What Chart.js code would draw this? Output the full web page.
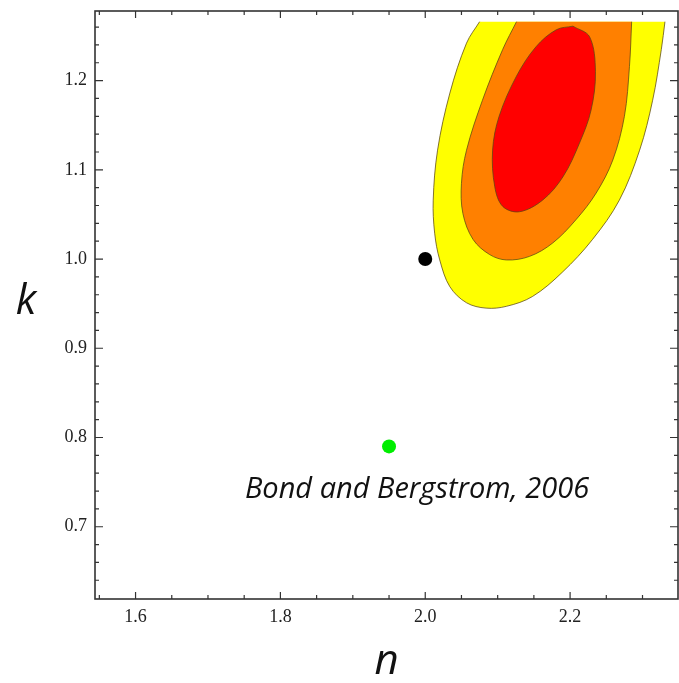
<!DOCTYPE html>
<html>
<head>
<meta charset="utf-8">
<title>n - k</title>
<script src="https://cdn.jsdelivr.net/npm/chart.js@4.4.0/dist/chart.umd.min.js"></script>
<style>
  html, body { margin: 0; padding: 0; background: #fff; }
</style>
</head>
<body>
<canvas id="chart" width="679" height="683"></canvas>
<script>
// confidence regions in the (n, k) plane, outer to inner; the outer two are cut off at k = 1.266
var yellowRegion = [
  [2.075, 1.266], [2.057, 1.242], [2.034, 1.186], [2.017, 1.122], [2.011, 1.066],
  [2.013, 1.029], [2.020, 0.999], [2.034, 0.969], [2.057, 0.951], [2.084, 0.945],
  [2.112, 0.947], [2.148, 0.958], [2.189, 0.985], [2.231, 1.022], [2.268, 1.066],
  [2.296, 1.122], [2.314, 1.178], [2.326, 1.235], [2.331, 1.266]
];
var orangeRegion = [
  [2.126, 1.266], [2.107, 1.235], [2.079, 1.178], [2.057, 1.122], [2.050, 1.085],
  [2.052, 1.051], [2.066, 1.022], [2.089, 1.005], [2.112, 0.999], [2.144, 1.003],
  [2.176, 1.018], [2.208, 1.044], [2.236, 1.074], [2.259, 1.111], [2.275, 1.160],
  [2.282, 1.216], [2.285, 1.266]
];
var redRegion = [
  [2.204, 1.261], [2.227, 1.249], [2.235, 1.210], [2.229, 1.167], [2.213, 1.130],
  [2.190, 1.092], [2.162, 1.066], [2.130, 1.053], [2.107, 1.059], [2.096, 1.081],
  [2.093, 1.122], [2.102, 1.160], [2.126, 1.205], [2.153, 1.238], [2.181, 1.257],
  [2.204, 1.261]
];

var modelPoint = [[2.0, 1.0]];
var bondPoint = [[1.95, 0.79]];
var bondLabel = 'Bond and Bergstrom, 2006';
var bondLabelAt = [1.751, 0.732];

var nTicks = [1.6, 1.8, 2.0, 2.2];
var kTicks = [0.7, 0.8, 0.9, 1.0, 1.1, 1.2];
var nRange = [1.544, 2.349];
var kRange = [0.619, 1.278];

function pts(list) {
  return list.map(function (p) { return {x: p[0], y: p[1]}; });
}

function region(list, color, order) {
  return {
    data: pts(list),
    showLine: true,
    fill: 'shape',
    backgroundColor: color,
    borderColor: 'rgba(90,70,20,0.75)',
    borderWidth: 1,
    pointRadius: 0,
    tension: 0.35,
    order: order
  };
}

// Mathematica-style frame: box with inward ticks on all four sides
var frameTicks = {
  id: 'frameTicks',
  afterDatasetsDraw: function (chart) {
    var ctx = chart.ctx, a = chart.chartArea;
    var xs = chart.scales.x, ys = chart.scales.y;
    ctx.save();
    ctx.strokeStyle = '#333';
    ctx.lineWidth = 1.2;
    ctx.beginPath();
    for (var i = 30; i <= 47; i++) {
      var px = xs.getPixelForValue(i * 0.05);
      if (px <= a.left + 1 || px >= a.right - 1) continue;
      var len = (i % 4 === 0) ? 7 : 4;
      ctx.moveTo(px, a.bottom); ctx.lineTo(px, a.bottom - len);
      ctx.moveTo(px, a.top); ctx.lineTo(px, a.top + len);
    }
    for (var j = 30; j <= 64; j++) {
      var py = ys.getPixelForValue(j * 0.02);
      if (py <= a.top + 1 || py >= a.bottom - 1) continue;
      var l = (j % 5 === 0) ? 8 : 4;
      ctx.moveTo(a.left, py); ctx.lineTo(a.left + l, py);
      ctx.moveTo(a.right, py); ctx.lineTo(a.right - l, py);
    }
    ctx.stroke();
    ctx.lineWidth = 1.6;
    ctx.strokeRect(a.left, a.top, a.right - a.left, a.bottom - a.top);
    ctx.restore();
  },
  afterDraw: function (chart) {
    var ctx = chart.ctx;
    var xs = chart.scales.x, ys = chart.scales.y;
    ctx.save();
    ctx.fillStyle = '#111';
    ctx.textBaseline = 'alphabetic';
    ctx.textAlign = 'left';
    ctx.font = 'italic 29px "Open Sans"';
    ctx.fillText(bondLabel, xs.getPixelForValue(bondLabelAt[0]), ys.getPixelForValue(bondLabelAt[1]));
    ctx.textAlign = 'center';
    ctx.font = 'italic 42px "Open Sans"';
    ctx.fillText('k', 26, 314);
    ctx.restore();
  }
};

// keep the plot box fixed: no extra room for half-height edge labels
function noEdgePadding(scale) {
  scale.paddingTop = 0;
  scale.paddingBottom = 0;
  scale.paddingLeft = 0;
  scale.paddingRight = 0;
}

var ctx = document.getElementById('chart').getContext('2d');
var myChart = new Chart(ctx, {
  type: 'scatter',
  data: {
    datasets: [
      region(yellowRegion, '#ffff00', 3),
      region(orangeRegion, '#ff8000', 2),
      region(redRegion, '#ff0000', 1),
      {
        data: pts(modelPoint),
        pointRadius: 7,
        pointBackgroundColor: '#000',
        pointBorderWidth: 0,
        order: 0
      },
      {
        data: pts(bondPoint),
        pointRadius: 7,
        pointBackgroundColor: '#00ee00',
        pointBorderWidth: 0,
        order: 0
      }
    ]
  },
  options: {
    responsive: false,
    animation: false,
    devicePixelRatio: 1,
    layout: {autoPadding: false, padding: {top: 11, right: 1, left: 0, bottom: 0}},
    plugins: {legend: {display: false}, tooltip: {enabled: false}},
    scales: {
      x: {
        type: 'linear',
        min: nRange[0],
        max: nRange[1],
        grid: {display: false, drawTicks: false},
        border: {display: false},
        afterBuildTicks: function (scale) {
          scale.ticks = nTicks.map(function (v) { return {value: v}; });
        },
        afterFit: function (scale) { scale.height = 84; noEdgePadding(scale); },
        ticks: {
          padding: 7,
          color: '#222',
          font: {family: 'Liberation Serif', size: 18},
          callback: function (v) { return v.toFixed(1); }
        },
        title: {
          display: true,
          text: 'n',
          color: '#111',
          padding: {top: 0, bottom: -4},
          font: {family: 'Open Sans', size: 42, style: 'italic', weight: 'normal'}
        }
      },
      y: {
        type: 'linear',
        min: kRange[0],
        max: kRange[1],
        grid: {display: false, drawTicks: false},
        border: {display: false},
        afterBuildTicks: function (scale) {
          scale.ticks = kTicks.map(function (v) { return {value: v}; });
        },
        afterFit: function (scale) { scale.width = 95; noEdgePadding(scale); },
        ticks: {
          padding: 8,
          color: '#222',
          font: {family: 'Liberation Serif', size: 18},
          callback: function (v) { return v.toFixed(1); }
        }
      }
    }
  },
  plugins: [frameTicks]
});
</script>
</body>
</html>
